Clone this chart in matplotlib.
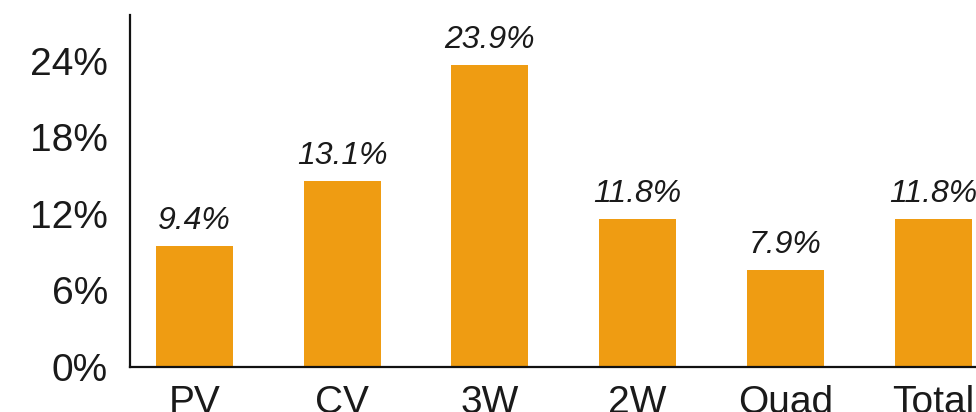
import matplotlib
matplotlib.use("Agg")
import matplotlib.pyplot as plt
from matplotlib.ticker import FuncFormatter

# data
categories = ["PV", "CV", "3W", "2W", "Quad", "Total"]
bar_values = [9.5, 14.6, 23.7, 11.6, 7.6, 11.6]
bar_labels = ["9.4%", "13.1%", "23.9%", "11.8%", "7.9%", "11.8%"]
y_ticks = [0, 6, 12, 18, 24]

plt.rcParams['font.family'] = ['Liberation Sans', 'DejaVu Sans']

fig = plt.figure(figsize=(9.76, 4.12), dpi=100)
ax = fig.add_axes([130/976, 45/412, 1 - 130/976, (367 - 15)/412])

x = range(len(categories))
ax.bar(x, bar_values, width=0.52, color="#EF9C12")

for xi, v, lab in zip(x, bar_values, bar_labels):
    ax.annotate(lab, (xi, v), xytext=(0, 12), textcoords="offset points",
                ha="center", va="baseline", fontsize=23, style="italic",
                color="#1a1a1a", annotation_clip=False)

ax.set_xlim(-0.436, 5.29)
ax.set_ylim(0, 27.6)
ax.set_xticks(list(x))
ax.set_xticklabels(categories)
ax.set_yticks(y_ticks)
ax.yaxis.set_major_formatter(FuncFormatter(lambda v, p: f"{v:.0f}%"))
ax.tick_params(axis="both", length=0, labelsize=28, colors="#1a1a1a")
ax.tick_params(axis="y", pad=16)
ax.tick_params(axis="x", pad=13)

for s in ["top", "right"]:
    ax.spines[s].set_visible(False)
for s in ["left", "bottom"]:
    ax.spines[s].set_linewidth(1.6)
    ax.spines[s].set_color("#111111")

fig.savefig("out.png", dpi=100)
